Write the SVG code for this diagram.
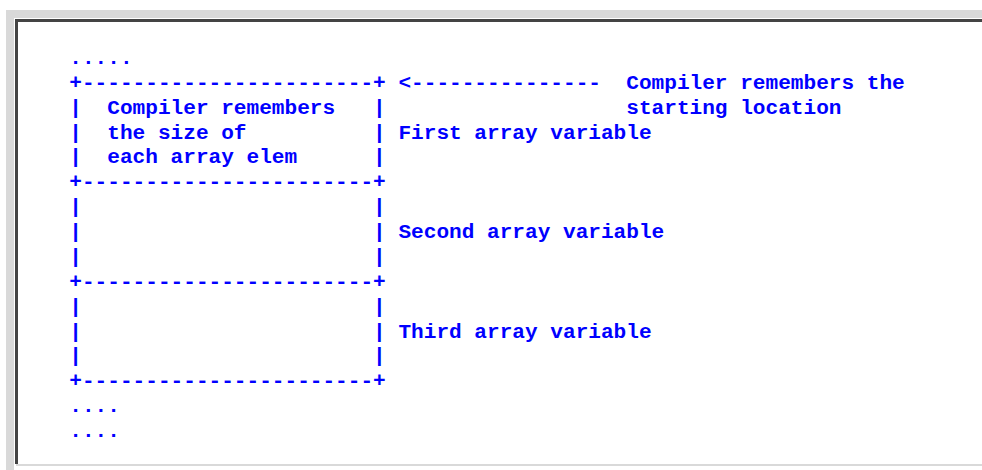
<svg xmlns="http://www.w3.org/2000/svg" width="982" height="470" viewBox="0 0 982 470">
<style>
  text.t { font-family: "Liberation Mono", "Courier New", monospace; font-weight: bold; font-size: 21.1px; fill: #0000ff; white-space: pre; }
</style>
<rect x="0" y="0" width="982" height="470" fill="#ffffff"/>
<g id="frame">
  <rect x="6" y="10" width="976" height="8" fill="#d9d9d9"/>
  <rect x="6" y="10" width="8" height="460" fill="#d9d9d9"/>
  <rect x="15" y="19" width="967" height="3" fill="#444444"/>
  <rect x="15" y="19" width="3" height="445" fill="#444444"/>
  <rect x="16" y="464" width="966" height="2" fill="#d9d9d9"/>
</g>
<g id="diagram">
  <text class="t" xml:space="preserve" x="69.3" y="64">.....</text>
  <text class="t" xml:space="preserve" x="69.3" y="88.9">+-----------------------+ &lt;---------------  Compiler remembers the</text>
  <text class="t" xml:space="preserve" x="69.3" y="113.7">|  Compiler remembers   |                   starting location</text>
  <text class="t" xml:space="preserve" x="69.3" y="138.6">|  the size of          | First array variable</text>
  <text class="t" xml:space="preserve" x="69.3" y="163.4">|  each array elem      |</text>
  <text class="t" xml:space="preserve" x="69.3" y="188.3">+-----------------------+</text>
  <text class="t" xml:space="preserve" x="69.3" y="213.2">|                       |</text>
  <text class="t" xml:space="preserve" x="69.3" y="238">|                       | Second array variable</text>
  <text class="t" xml:space="preserve" x="69.3" y="262.9">|                       |</text>
  <text class="t" xml:space="preserve" x="69.3" y="287.7">+-----------------------+</text>
  <text class="t" xml:space="preserve" x="69.3" y="312.6">|                       |</text>
  <text class="t" xml:space="preserve" x="69.3" y="337.5">|                       | Third array variable</text>
  <text class="t" xml:space="preserve" x="69.3" y="362.3">|                       |</text>
  <text class="t" xml:space="preserve" x="69.3" y="387.2">+-----------------------+</text>
  <text class="t" xml:space="preserve" x="69.3" y="412">....</text>
  <text class="t" xml:space="preserve" x="69.3" y="436.9">....</text>
</g>
</svg>
